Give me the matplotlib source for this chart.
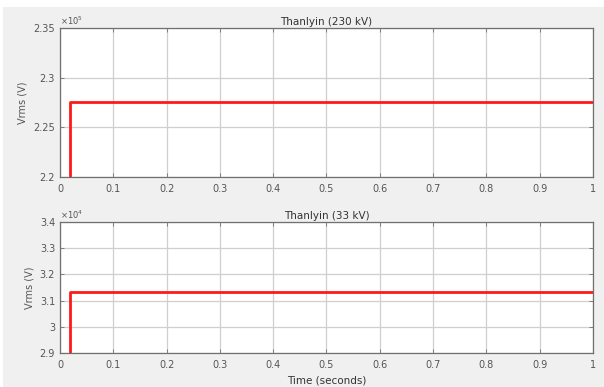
import matplotlib.pyplot as plt
from matplotlib.patches import Rectangle
from matplotlib.ticker import FuncFormatter

# simulated RMS voltages, step at breaker close
time_s = [0.0, 0.018, 0.018, 1.0]
v_230 = [2.0e5, 2.0e5, 2.2755e5, 2.2755e5]
v_33 = [2.5e4, 2.5e4, 3.134e4, 3.134e4]

x_ticks = [0, 0.1, 0.2, 0.3, 0.4, 0.5, 0.6, 0.7, 0.8, 0.9, 1]
y_ticks_230 = [2.2e5, 2.25e5, 2.3e5, 2.35e5]
y_ticks_33 = [2.9e4, 3.0e4, 3.1e4, 3.2e4, 3.3e4, 3.4e4]

txt = '#555555'
fig = plt.figure(figsize=(6.04, 3.87), dpi=100, facecolor='#f0f0f0')
# thin white margin along the top and left edges of the screenshot
fig.patches.append(Rectangle((0, 1 - 7 / 387), 1, 7 / 387, transform=fig.transFigure,
                             facecolor='white', edgecolor='none', zorder=-10))
fig.patches.append(Rectangle((0, 0), 3 / 604, 1, transform=fig.transFigure,
                             facecolor='white', edgecolor='none', zorder=-10))


def style(ax, yt, scale, exp, title):
    ax.set_xlim(0, 1)
    ax.set_ylim(yt[0], yt[-1])
    ax.set_xticks(x_ticks)
    ax.set_yticks(yt)
    ax.xaxis.set_major_formatter(FuncFormatter(lambda v, p: f'{v:g}'))
    ax.yaxis.set_major_formatter(FuncFormatter(lambda v, p: f'{v / scale:g}'))
    ax.grid(True, color='#cfcfcf', linewidth=0.9)
    ax.set_axisbelow(True)
    ax.tick_params(direction='in', top=True, right=True, labelsize=7,
                   colors='#707070', labelcolor=txt, length=3, width=0.6)
    ax.tick_params(axis='x', pad=5)
    for s in ax.spines.values():
        s.set_color('#707070')
        s.set_linewidth(0.9)
    ax.set_title(title, fontsize=7.5, color='#333333', pad=2)
    ax.set_ylabel('Vrms (V)', fontsize=7, color=txt, labelpad=4)
    ax.text(0.0, 1.01, r'$\times10^{%d}$' % exp, transform=ax.transAxes,
            fontsize=6, color=txt, va='bottom', ha='left')


ax1 = fig.add_axes([0.0993, 0.5426, 0.8825, 0.385])
ax1.plot(time_s, v_230, color='#ff1a1a', linewidth=2)
style(ax1, y_ticks_230, 1e5, 5, 'Thanlyin (230 kV)')

ax2 = fig.add_axes([0.0993, 0.0879, 0.8825, 0.3385])
ax2.plot(time_s, v_33, color='#ff1a1a', linewidth=2)
style(ax2, y_ticks_33, 1e4, 4, 'Thanlyin (33 kV)')
ax2.set_xlabel('Time (seconds)', fontsize=7.5, color='#333333', labelpad=4)

fig.savefig('out.png', dpi=100, facecolor=fig.get_facecolor())
